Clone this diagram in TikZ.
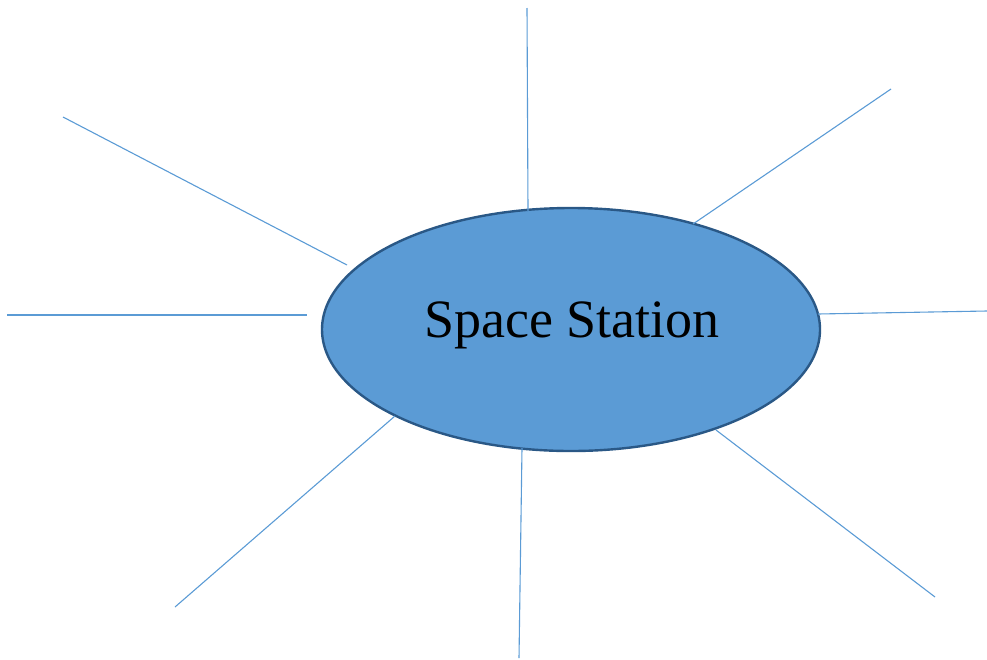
\documentclass[tikz,border=0pt]{standalone}
\usepackage{fontspec}
\setmainfont{Liberation Serif}
\usetikzlibrary{shapes.geometric}
\definecolor{fillblue}{HTML}{5B9BD5}
\definecolor{edgeblue}{HTML}{2A5886}
\begin{document}
\begin{tikzpicture}[x=1pt,y=-1pt,
  spoke/.style={draw=fillblue,line width=1.1pt},
  hub/.style={ellipse,draw=edgeblue,fill=fillblue,line width=2.4pt,minimum width=498pt,minimum height=243pt,inner sep=0pt}]
\useasboundingbox (0,0) rectangle (987,659);
\node[hub] (hub) at (571,329.5) {};
\node[anchor=base,font=\fontsize{54}{60}\selectfont] (label) at (572,337) {Space Station};
% spoke ends
\coordinate (t1) at (527,8);    \coordinate (t2) at (528,211);
\coordinate (tr1) at (891,89);  \coordinate (tr2) at (693,224);
\coordinate (r1) at (987,311);  \coordinate (r2) at (818,314);
\coordinate (br1) at (935,597); \coordinate (br2) at (716,430);
\coordinate (b1) at (519,658);  \coordinate (b2) at (522,448);
\coordinate (bl1) at (175,607); \coordinate (bl2) at (395,416);
\coordinate (l1) at (7,315);    \coordinate (l2) at (307,315);
\coordinate (tl1) at (63,117);  \coordinate (tl2) at (347,265);
\draw[spoke] (t1) -- (t2);
\draw[spoke] (tr1) -- (tr2);
\draw[spoke] (r1) -- (r2);
\draw[spoke] (br1) -- (br2);
\draw[spoke] (b1) -- (b2);
\draw[spoke] (bl1) -- (bl2);
\draw[spoke] (l1) -- (l2);
\draw[spoke] (tl1) -- (tl2);
\end{tikzpicture}
\end{document}
